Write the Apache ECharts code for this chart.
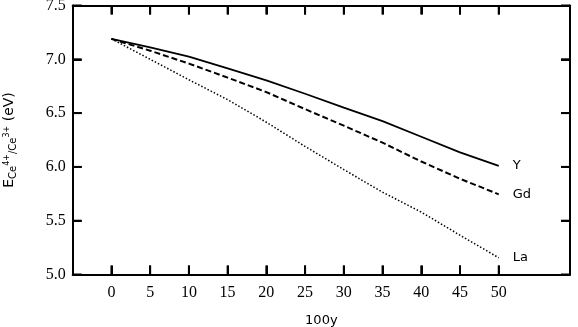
<!DOCTYPE html>
<html>
<head>
<meta charset="utf-8">
<script src="https://cdn.jsdelivr.net/npm/echarts@6/dist/echarts.min.js"></script>
<style>
  html, body { margin: 0; padding: 0; background: #fff; }
  #chart { width: 578px; height: 327px; }
</style>
</head>
<body>
<div id="chart"></div>
<script>
// Dopant content (100y) and Ce4+/Ce3+ level for each co-dopant
const xValues = [0, 5, 10, 15, 20, 25, 30, 35, 40, 45, 50];
const seriesNames = ['Y', 'Gd', 'La'];
const yValuesY  = [7.19, 7.11, 7.025, 6.915, 6.805, 6.68, 6.55, 6.425, 6.28, 6.135, 6.01];
const yValuesGd = [7.19, 7.08, 6.96, 6.83, 6.695, 6.537, 6.383, 6.225, 6.05, 5.89, 5.745];
const yValuesLa = [7.19, 7.0, 6.81, 6.625, 6.415, 6.19, 5.975, 5.765, 5.58, 5.365, 5.155];
const xTicks = [0, 5, 10, 15, 20, 25, 30, 35, 40, 45, 50];
const yTicks = [5.0, 5.5, 6.0, 6.5, 7.0, 7.5];

const X_MIN = -5, X_MAX = 59.2, Y_MIN = 5, Y_MAX = 7.5;
const serif = 'Liberation Serif';
const sans = 'DejaVu Sans';
const TICK_LEN = 9;

function pairs(ys) { return xValues.map((x, i) => [x, ys[i]]); }

const chart = echarts.init(document.getElementById('chart'), null, { renderer: 'canvas' });

function axisLine() { return { show: true, onZero: false, lineStyle: { color: '#000', width: 2 } }; }
function axisTick(custom) {
  const t = { show: true, inside: true, length: TICK_LEN, lineStyle: { color: '#000', width: 2 } };
  if (custom) t.customValues = custom;
  return t;
}

function seriesOf(name, ys, dash, width) {
  return {
    name: name,
    type: 'line',
    data: pairs(ys),
    showSymbol: false,
    symbol: 'none',
    lineStyle: { color: '#000', width: width, type: dash },
    endLabel: {
      show: true,
      formatter: '{a}',
      distance: 14,
      fontFamily: sans,
      fontSize: 13,
      color: '#000'
    }
  };
}

chart.setOption({
  animation: false,
  backgroundColor: '#fff',
  grid: { left: 72.7, right: 8, top: 5.5, bottom: 52.5, containLabel: false, outerBoundsMode: 'none' },
  xAxis: [
    {
      type: 'value', position: 'bottom', min: X_MIN, max: X_MAX,
      axisLine: axisLine(),
      axisTick: axisTick(xTicks),
      axisLabel: { show: true, customValues: xTicks, fontFamily: serif, fontSize: 16, color: '#000', margin: 10 },
      splitLine: { show: false },
      name: '100y', nameLocation: 'middle', nameGap: 40,
      nameTextStyle: { fontFamily: sans, fontSize: 13, color: '#000' }
    },
    {
      type: 'value', position: 'top', min: X_MIN, max: X_MAX,
      axisLine: axisLine(),
      axisTick: axisTick(xTicks),
      axisLabel: { show: false },
      splitLine: { show: false }
    }
  ],
  yAxis: [
    {
      type: 'value', position: 'left', min: Y_MIN, max: Y_MAX, interval: 0.5,
      axisLine: axisLine(),
      axisTick: axisTick(),
      axisLabel: {
        fontFamily: serif, fontSize: 16, color: '#000', margin: 7,
        formatter: v => v.toFixed(1)
      },
      splitLine: { show: false },
      name: '{b|E}{sub|Ce}{sup|4+}{sub|/Ce}{sup|3+}{b| (eV)}',
      nameLocation: 'middle', nameRotate: 90, nameGap: 55,
      nameTextStyle: {
        color: '#000',
        rich: {
          b:   { fontFamily: sans, fontSize: 14, lineHeight: 16, color: '#000' },
          sub: { fontFamily: sans, fontSize: 10, lineHeight: 10, padding: [7, 0, 0, 0], color: '#000' },
          sup: { fontFamily: sans, fontSize: 8, lineHeight: 8, padding: [0, 0, 6, 0], color: '#000' }
        }
      }
    },
    {
      type: 'value', position: 'right', min: Y_MIN, max: Y_MAX, interval: 0.5,
      axisLine: axisLine(),
      axisTick: axisTick(),
      axisLabel: { show: false },
      splitLine: { show: false }
    }
  ],
  series: [
    seriesOf(seriesNames[0], yValuesY, 'solid', 1.8),
    seriesOf(seriesNames[1], yValuesGd, [6, 3], 2),
    seriesOf(seriesNames[2], yValuesLa, [1.5, 2], 1.5)
  ]
});

// Inward tick marks on all four sides of the frame, positioned through the axis scales
function tickSegment(x1, y1, x2, y2) {
  return {
    type: 'line',
    silent: true,
    z: 100,
    shape: { x1: x1, y1: y1, x2: x2, y2: y2 },
    style: { stroke: '#000', lineWidth: 2 }
  };
}
function frameTicks() {
  const corner1 = chart.convertToPixel({ gridIndex: 0 }, [X_MIN, Y_MAX]);
  const corner2 = chart.convertToPixel({ gridIndex: 0 }, [X_MAX, Y_MIN]);
  const left = corner1[0], top = corner1[1], right = corner2[0], bottom = corner2[1];
  const els = [];
  xTicks.forEach(v => {
    const px = chart.convertToPixel({ gridIndex: 0 }, [v, Y_MIN])[0];
    els.push(tickSegment(px, bottom, px, bottom - TICK_LEN));
    els.push(tickSegment(px, top, px, top + TICK_LEN));
  });
  yTicks.forEach(v => {
    const py = chart.convertToPixel({ gridIndex: 0 }, [X_MIN, v])[1];
    els.push(tickSegment(left, py, left + TICK_LEN, py));
    els.push(tickSegment(right, py, right - TICK_LEN, py));
  });
  return els;
}
chart.setOption({ graphic: { elements: frameTicks() } });
</script>
</body>
</html>
